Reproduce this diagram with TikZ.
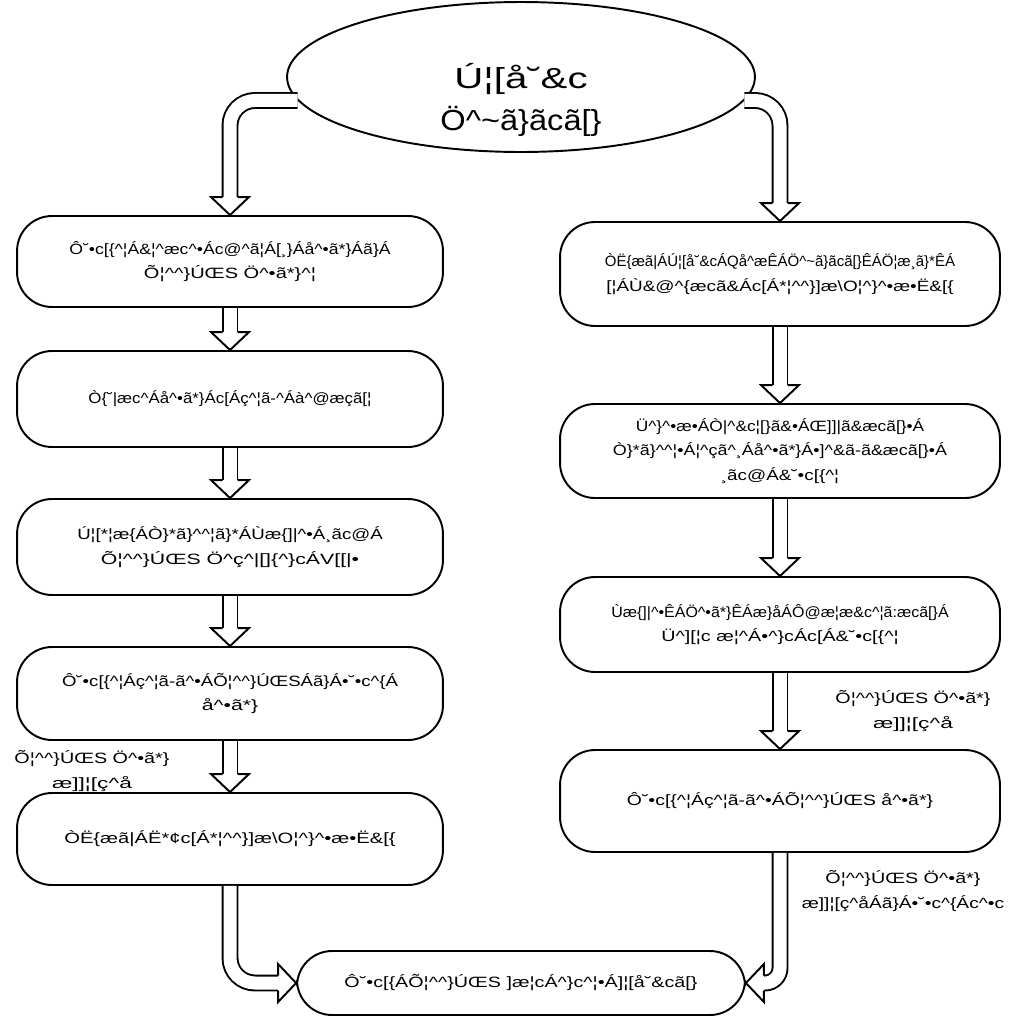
\documentclass[tikz,border=0pt]{standalone}
\usepackage{fontspec}
\usepackage{graphicx}
\setmainfont{Liberation Sans}
\usetikzlibrary{shapes.geometric,positioning}
\newcommand{\stepfont}{\fontsize{8.5}{13.9}\selectfont}
\newcommand{\startfont}{\fontsize{16.5}{24.4}\selectfont}
\newcommand{\crt}{\textasciicircum}
\newlength{\fitw}
\newcommand{\fitline}[3][10.9]{\settowidth{\fitw}{\fontsize{#1}{#1}\selectfont #2}\resizebox{\fitw}{\height}{#3}}
\tikzset{
  stepbox/.style={draw, line width=1.1pt, rectangle, rounded corners=0.7cm, minimum height=1.9cm, align=center, font=\stepfont},
  leftbox/.style={stepbox, minimum width=8.52cm},
  rightbox/.style={stepbox, minimum width=8.8cm},
  startnode/.style={draw, line width=1.1pt, ellipse, minimum width=9.36cm, minimum height=3cm, align=center, font=\startfont, inner sep=0pt},
  flowarr/.style={double, double distance=7.4pt, line width=1.1pt, shorten >=0.36cm},
  flownote/.style={align=center, font=\stepfont},
  pics/arrhead/.style={code={
    \fill[white] (-19,-18) -- (0,0) -- (19,-18) -- cycle;
    \draw[line width=1.1pt] (-7.5,-18) -- (-19,-18) -- (0,0) -- (19,-18) -- (7.5,-18);
  }}
}

\begin{document}
\begin{tikzpicture}[x=0.02cm, y=-0.02cm]
  \useasboundingbox (0,0) rectangle (1028,1018);

  \node [startnode] (define) at (521,77) {\raisebox{-0.63cm}[0pt][0pt]{\begin{tabular}{@{}c@{}}\fitline[22]{Product}{Ú¦[å˘\&c}\\\fitline[22]{Definition}{Ö\crt{}\textasciitilde{}ã\}ãcã[\}}\end{tabular}}};

  \node [leftbox, minimum height=1.82cm] (custdesign) at (230,261.5) {\fitline{Customer creates their own design in }{Ô˘•c[\{\crt{}¦Á\&¦\crt{}æc\crt{}•Ác@\crt{}ã¦Á[¸\}Áå\crt{}•ã*\}Áã\}Á}\\\fitline{GreenPAK Designer}{Õ¦\crt{}\crt{}\}ÚŒS Ö\crt{}•ã*\}\crt{}¦}};
  \node [leftbox, minimum height=1.92cm] (emulate) at (230,399) {\fitline{Emulate design to verify behavior}{Ò\{˘|æc\crt{}Áå\crt{}•ã*\}Ác[Áç\crt{}¦ã-\crt{}Áà\crt{}@æçã[¦}};
  \node [leftbox, minimum height=1.92cm] (samples) at (230,547) {\fitline{Program Engineering Samples with }{Ú¦[*¦æ\{ÁÒ\}*ã\}\crt{}\crt{}¦ã\}*ÁÙæ\{]|\crt{}•Á¸ãc@Á}\\\fitline{GreenPAK Development Tools}{Õ¦\crt{}\crt{}\}ÚŒS Ö\crt{}ç\crt{}|[]\{\crt{}\}cÁV[[|•}};
  \node [leftbox, minimum height=1.86cm] (verify) at (230,693.5) {\fitline{Customer verifies GreenPAK in system }{Ô˘•c[\{\crt{}¦Áç\crt{}¦ã-ã\crt{}•ÁÕ¦\crt{}\crt{}\}ÚŒSÁã\}Á•˘•c\crt{}\{Á}\\\fitline{design}{å\crt{}•ã*\}}};
  \node [leftbox, minimum height=1.84cm] (emailfile) at (230,839) {\fitline{E-mail .gpx to greenpak@renesas.com}{ÒË\{æã|ÁË*¢c[Á*¦\crt{}\crt{}\}]æ\textbackslash{}O¦\crt{}\}\crt{}•æ•Ë\&[\{}};

  \node [rightbox, minimum height=2.08cm] (emailidea) at (780,274) {\fitline{E-mail Product Idea, Definition, Drawing, }{ÒË\{æã|ÁÚ¦[å˘\&cÁQå\crt{}æÊÁÖ\crt{}\textasciitilde{}ã\}ãcã[\}ÊÁÖ¦æ¸ã\}*ÊÁ}\\\fitline{or Schematic to greenpak@renesas.com}{[¦ÁÙ\&@\crt{}\{æcã\&Ác[Á*¦\crt{}\crt{}\}]æ\textbackslash{}O¦\crt{}\}\crt{}•æ•Ë\&[\{}};
  \node [rightbox, minimum height=1.88cm] (review) at (780,451) {\fitline{Renesas Electronics Applications }{Ü\crt{}\}\crt{}•æ•ÁÒ|\crt{}\&c¦[\}ã\&•ÁŒ]]|ã\&æcã[\}•Á}\\\fitline{Engineers review design specifications }{Ò\}*ã\}\crt{}\crt{}¦•Á¦\crt{}çã\crt{}¸Áå\crt{}•ã*\}Á•]\crt{}\&ã-ã\&æcã[\}•Á}\\\fitline{with customer}{¸ãc@Á\&˘•c[\{\crt{}¦}};
  \node [rightbox, minimum height=1.9cm] (report) at (780,624.5) {\fitline{Samples, Design, and Characterization }{Ùæ\{]|\crt{}•ÊÁÖ\crt{}•ã*\}ÊÁæ\}åÁÔ@æ¦æ\&c\crt{}¦ã:æcã[\}Á}\\\fitline{Report are sent to customer}{Ü\crt{}][¦c æ¦\crt{}Á•\crt{}\}cÁc[Á\&˘•c[\{\crt{}¦}};
  \node [rightbox, minimum height=2.04cm] (sysverify) at (780,801) {\fitline{Customer verifies GreenPAK design}{Ô˘•c[\{\crt{}¦Áç\crt{}¦ã-ã\crt{}•ÁÕ¦\crt{}\crt{}\}ÚŒS å\crt{}•ã*\}}};

  \node [stepbox, minimum width=8.96cm, minimum height=1.28cm] (production) at (521,983) {\fitline{Custom GreenPAK part enters production}{Ô˘•c[\{ÁÕ¦\crt{}\crt{}\}ÚŒS ]æ¦cÁ\crt{}\}c\crt{}¦•Á]¦[å˘\&cã[\}}};

  \node [flownote] (approvedl) at (92,771) {\fitline{GreenPAK Design}{Õ¦\crt{}\crt{}\}ÚŒS Ö\crt{}•ã*\}}\\\fitline{approved}{æ]]¦[ç\crt{}å}};
  \node [flownote] (approvedr) at (913,711) {\fitline{GreenPAK Design}{Õ¦\crt{}\crt{}\}ÚŒS Ö\crt{}•ã*\}}\\\fitline{approved}{æ]]¦[ç\crt{}å}};
  \node [flownote] (approvedsys) at (903,891) {\fitline{GreenPAK Design}{Õ¦\crt{}\crt{}\}ÚŒS Ö\crt{}•ã*\}}\\\fitline{approved in system test}{æ]]¦[ç\crt{}åÁã\}Á•˘•c\crt{}\{Ác\crt{}•c}};

  \draw [flowarr, rounded corners=0.5cm] (define.186) -| (custdesign);
  \pic at (custdesign.north) {arrhead};
  \draw [flowarr] (custdesign) -- (emulate);
  \pic at (emulate.north) {arrhead};
  \draw [flowarr] (emulate) -- (samples);
  \pic at (samples.north) {arrhead};
  \draw [flowarr] (samples) -- (verify);
  \pic at (verify.north) {arrhead};
  \draw [flowarr] (verify) -- (emailfile);
  \pic at (emailfile.north) {arrhead};
  \draw [flowarr, rounded corners=0.5cm] (emailfile) |- (production);
  \pic [rotate=90] at (production.west) {arrhead};

  \draw [flowarr, rounded corners=0.5cm] (define.354) -| (emailidea);
  \pic at (emailidea.north) {arrhead};
  \draw [flowarr] (emailidea) -- (review);
  \pic at (review.north) {arrhead};
  \draw [flowarr] (review) -- (report);
  \pic at (report.north) {arrhead};
  \draw [flowarr] (report) -- (sysverify);
  \pic at (sysverify.north) {arrhead};
  \draw [flowarr, rounded corners=0.3cm] (sysverify) |- (production);
  \pic [rotate=-90] at (production.east) {arrhead};
\end{tikzpicture}
\end{document}
